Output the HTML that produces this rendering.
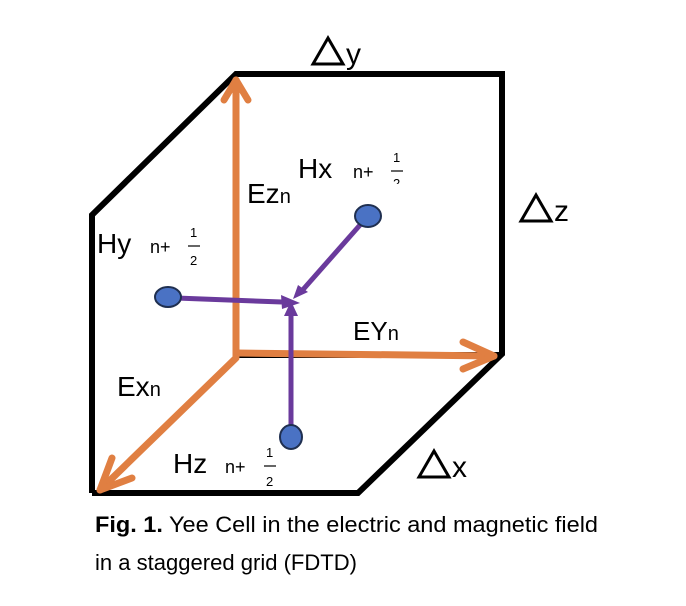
<!DOCTYPE html>
<html><head><style>
body{margin:0;background:#fff;width:686px;height:606px;overflow:hidden}
svg{display:block}
text{font-family:"Liberation Sans",sans-serif;fill:#000}
</style></head><body>
<svg width="686" height="606" viewBox="0 0 686 606">
<g fill="none" stroke="#000" stroke-width="6" stroke-linejoin="miter">
<polyline points="92,493 92,215 236,74 502,74 502,354 358,493 92,493"/>
<line x1="236" y1="355" x2="502" y2="355"/>
</g>
<g fill="none" stroke="#E07F42" stroke-width="7" stroke-linecap="round" stroke-linejoin="round">
<line x1="236" y1="356" x2="236" y2="80"/>
<polyline points="224,100 236,80 248,100"/>
<line x1="236" y1="353" x2="494" y2="356"/>
<polyline points="463,342 494,356 463,369"/>
<line x1="236" y1="358" x2="100" y2="490"/>
<polyline points="112,458 100,490 132,478"/>
</g>
<g stroke="#6A3A9C" stroke-width="5" fill="#6A3A9C">
<line x1="176" y1="298" x2="282" y2="302"/>
<line x1="360" y1="225" x2="300" y2="293"/>
<line x1="291" y1="430" x2="291" y2="312"/>
<polygon points="300,303 281,295 282,309" stroke="none"/>
<polygon points="293,299 298,285 308,292" stroke="none"/>
<polygon points="291,301 284,316 298,316" stroke="none"/>
</g>
<g fill="#4A72C4" stroke="#1F2F50" stroke-width="2">
<ellipse cx="168" cy="297" rx="13" ry="10"/>
<ellipse cx="368" cy="216" rx="13" ry="11"/>
<ellipse cx="291" cy="437" rx="11" ry="12"/>
</g>
<g fill="none" stroke="#000" stroke-width="3">
<polygon points="313,64 328,38 343,64"/>
<polygon points="521,221 536,195 551,221"/>
<polygon points="419,477 434,451 449,477"/>
</g>
<text x="346" y="64" font-size="30">y</text>
<text x="554" y="221" font-size="30">z</text>
<text x="452" y="477" font-size="30">x</text>
<text x="247" y="203" font-size="28">Ez<tspan font-size="20">n</tspan></text>
<text x="298" y="178" font-size="28">Hx</text>
<text x="353" y="178" font-size="18">n+</text>
<text x="393" y="162" font-size="13">1</text>
<line x1="391" y1="171" x2="403" y2="171" stroke="#000" stroke-width="1.2"/>
<text x="393" y="188" font-size="13">2</text>
<rect x="385" y="184" width="30" height="12" fill="#fff"/>
<text x="97" y="253" font-size="28">Hy</text>
<text x="150" y="253" font-size="18">n+</text>
<text x="190" y="237" font-size="13">1</text>
<line x1="188" y1="246" x2="200" y2="246" stroke="#000" stroke-width="1.2"/>
<text x="190" y="265" font-size="13">2</text>
<text x="353" y="340" font-size="26">EY<tspan font-size="20">n</tspan></text>
<text x="117" y="396" font-size="28">Ex<tspan font-size="20">n</tspan></text>
<text x="173" y="473" font-size="28">Hz</text>
<text x="225" y="473" font-size="18">n+</text>
<text x="266" y="457" font-size="13">1</text>
<line x1="264" y1="466" x2="276" y2="466" stroke="#000" stroke-width="1.2"/>
<text x="266" y="486" font-size="13">2</text>
<text x="95" y="532" font-size="22" textLength="503" lengthAdjust="spacingAndGlyphs"><tspan font-weight="bold">Fig. 1.</tspan> Yee Cell in the electric and magnetic field</text>
<text x="95" y="570" font-size="22" textLength="262" lengthAdjust="spacingAndGlyphs">in a staggered  grid  (FDTD)</text>
</svg>
</body></html>
